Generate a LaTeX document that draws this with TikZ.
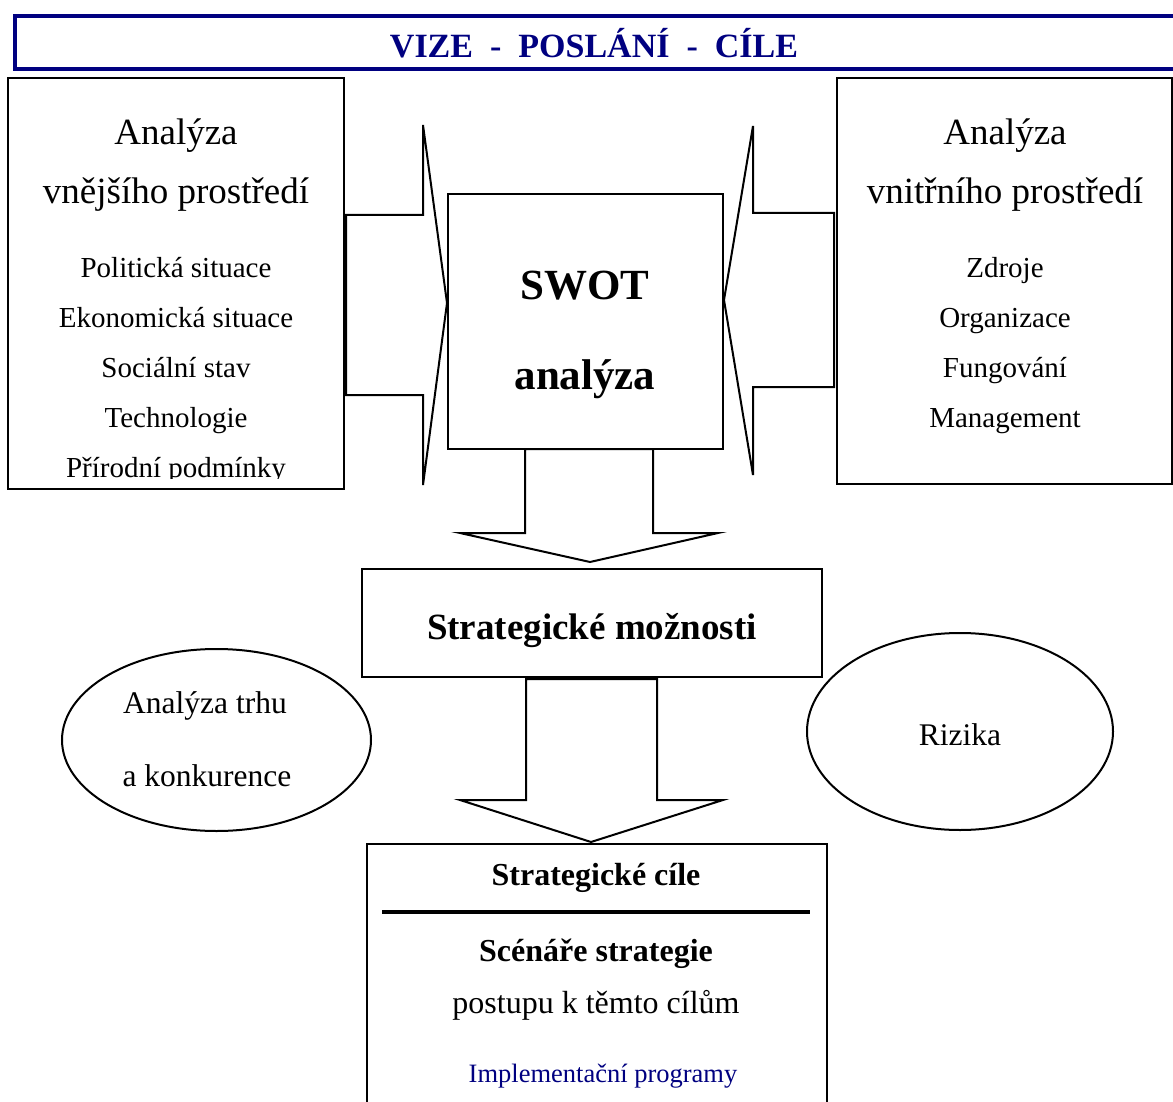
\documentclass[tikz,border=0pt]{standalone}
\usepackage{fontspec}
\setmainfont{Liberation Serif}
\usetikzlibrary{shapes.geometric}
\definecolor{navyc}{RGB}{0,0,128}
\newcommand\fsz[1]{\fontsize{#1pt}{#1pt}\selectfont}
\begin{document}
\begin{tikzpicture}[x=1pt,y=-1pt,
  box/.style={draw=black,line width=2pt,inner sep=0pt},
  oval/.style={draw=black,line width=2pt,ellipse,inner sep=0pt},
  bigarrow/.style={draw=black,line width=2pt,line join=miter,fill=white},
  txt/.style={anchor=base,inner sep=0pt},
  ttl/.style={txt,font=\fsz{37}},
  itm/.style={txt,font=\fsz{29}},
  otx/.style={txt,font=\fsz{31.5}},
]
\useasboundingbox (0,0) rectangle (1173,1102);
\clip (0,0) rectangle (1173,1102);

% banner
\node[draw=navyc,line width=4pt,minimum width=1180pt,minimum height=53pt,anchor=north west,inner sep=0pt] (banner) at (13,14) {};
\node[txt,font=\fsz{34}\bfseries,text=navyc] (bannertxt) at (594,58) {VIZE\ \ -\ \ POSLÁNÍ\ \ -\ \ CÍLE};

% left box
\node[box,minimum width=336pt,minimum height=411pt] (ext) at (175.5,283.5) {};
\node[ttl] (ext1) at (176,144.5) {Analýza};
\node[ttl] (ext2) at (176,203.5) {vnějšího prostředí};
\node[itm] (ext3) at (176,277) {Politická situace};
\node[itm] (ext4) at (176,327) {Ekonomická situace};
\node[itm] (ext5) at (176,377) {Sociální stav};
\node[itm] (ext6) at (176,427) {Technologie};
\begin{scope}
\clip (0,0) rectangle (1173,478);
\node[itm] (ext7) at (176,477) {Přírodní podmínky};
\end{scope}

% right box
\node[box,minimum width=335pt,minimum height=406pt] (int) at (1004.5,281) {};
\node[ttl] (int1) at (1005,144.5) {Analýza};
\node[ttl] (int2) at (1005,203.5) {vnitřního prostředí};
\node[itm] (int3) at (1005,277) {Zdroje};
\node[itm] (int4) at (1005,327) {Organizace};
\node[itm] (int5) at (1005,377) {Fungování};
\node[itm] (int6) at (1005,427) {Management};

% SWOT box
\node[box,minimum width=275pt,minimum height=255pt] (swot) at (585.5,321.5) {};
\node[txt,font=\fsz{43}\bfseries] (swot1) at (585,299) {SWOT};
\node[txt,font=\fsz{43}\bfseries] (swot2) at (585,389) {analýza};

% arrows into SWOT
\draw[bigarrow] (346,215) -- (423,215) -- (423,125) -- (swot.west |- 0,303) -- (423,485) -- (423,395) -- (346,395) -- cycle;
\draw[bigarrow] (834,213) -- (753,213) -- (753,126) -- (swot.east |- 0,300) -- (753,475) -- (753,387) -- (834,387) -- cycle;

% strategic options
\node[box,minimum width=460pt,minimum height=108pt] (opt) at (592,623) {};
\node[txt,font=\fsz{37}\bfseries] (opttxt) at (592,639.5) {Strategické možnosti};

\draw[bigarrow] (525,449) -- (653,449) -- (653,533) -- (718,533) -- (590,562) -- (460,533) -- (525,533) -- cycle;
\draw[bigarrow] (526,679) -- (657,679) -- (657,800) -- (723,800) -- (591,842) -- (460,800) -- (526,800) -- cycle;

% ellipses
\node[oval,minimum width=309pt,minimum height=182pt] (mkt) at (216.5,740) {};
\node[otx] (mkt1) at (205,713.5) {Analýza trhu};
\node[otx] (mkt2) at (207,786) {a konkurence};
\node[oval,minimum width=306pt,minimum height=197pt] (risk) at (960,731.5) {};
\node[otx] (risktxt) at (960,745) {Rizika};

% bottom box
\node[box,minimum width=460pt,minimum height=280pt,anchor=north west] (goals) at (366,843) {};
\node[txt,font=\fsz{32}\bfseries] (goal1) at (596,885) {Strategické cíle};
\coordinate (ruleL) at (382,912);
\coordinate (ruleR) at (810,912);
\draw[line width=4.5pt] (ruleL) -- (ruleR);
\node[txt,font=\fsz{32}\bfseries] (goal2) at (596,961) {Scénáře strategie};
\node[txt,font=\fsz{32}] (goal3) at (596,1013) {postupu k těmto cílům};
\node[txt,font=\fsz{26.5},text=navyc] (goal4) at (603,1082) {Implementační programy};
\end{tikzpicture}
\end{document}
